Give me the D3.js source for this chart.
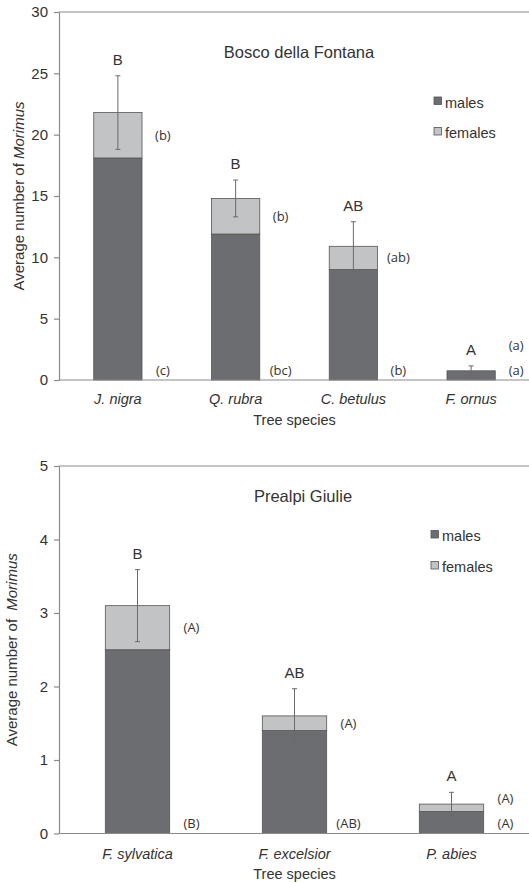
<!DOCTYPE html>
<html>
<head>
<meta charset="utf-8">
<script src="https://cdn.jsdelivr.net/npm/d3@7"></script>
<style>
  body { margin: 0; background: #fff; }
  svg { display: block; font-family: "Liberation Sans", Arial, sans-serif; }
</style>
</head>
<body>
<svg id="chart" width="529" height="883"></svg>
<script>
// panel 1: Bosco della Fontana
const fontanaSpecies = ['J. nigra', 'Q. rubra', 'C. betulus', 'F. ornus'];
const fontanaMales = [18.1, 11.9, 9.0, 0.75];
const fontanaFemales = [3.7, 2.9, 1.9, 0];
const fontanaErr = [3.0, 1.5, 2.0, 0.4];
const fontanaLetters = ['B', 'B', 'AB', 'A'];
const fontanaFemaleGroups = ['(b)', '(b)', '(ab)', '(a)'];
const fontanaMaleGroups = ['(c)', '(bc)', '(b)', '(a)'];
const fontanaTicks = [0, 5, 10, 15, 20, 25, 30];

// panel 2: Prealpi Giulie
const giulieSpecies = ['F. sylvatica', 'F. excelsior', 'P. abies'];
const giulieMales = [2.5, 1.4, 0.3];
const giulieFemales = [0.6, 0.2, 0.1];
const giulieErr = [0.49, 0.37, 0.16];
const giulieLetters = ['B', 'AB', 'A'];
const giulieFemaleGroups = ['(A)', '(A)', '(A)'];
const giulieMaleGroups = ['(B)', '(AB)', '(A)'];
const giulieTicks = [0, 1, 2, 3, 4, 5];

const seriesNames = ['males', 'females'];

const colors = { males: '#6c6d70', females: '#c2c3c5' };
const textColor = '#333';
const axisColor = '#8a8a8a';

const svg = d3.select('#chart');

function drawPanel(p) {
  const g = svg.append('g');
  const rows = p.species.map((s, i) => ({
    species: s, males: p.males[i], females: p.females[i], err: p.err[i],
    letter: p.letters[i], fg: p.femaleGroups[i], mg: p.maleGroups[i],
  }));

  const x = d3.scaleBand()
    .domain(p.species)
    .range([p.left, p.right])
    .paddingInner(0.59)
    .paddingOuter(0.295);
  const y = d3.scaleLinear()
    .domain([0, d3.max(p.ticks)])
    .range([p.bottom, p.top]);

  const stacked = d3.stack().keys(seriesNames)(rows);

  // bars
  g.selectAll('.layer')
    .data(stacked)
    .enter().append('g')
    .attr('fill', (d) => colors[d.key])
    .selectAll('rect')
    .data((d) => d.filter((v) => v[1] > v[0]))
    .enter().append('rect')
    .attr('x', (d) => x(d.data.species))
    .attr('width', x.bandwidth())
    .attr('y', (d) => y(d[1]))
    .attr('height', (d) => y(d[0]) - y(d[1]))
    .attr('stroke', '#555')
    .attr('stroke-width', 0.8);

  // error bars around the total
  const eb = g.selectAll('.err')
    .data(rows)
    .enter().append('g')
    .attr('stroke', '#6a6a6a')
    .attr('stroke-width', 1);
  const cx = (d) => x(d.species) + x.bandwidth() / 2;
  const tot = (d) => d.males + d.females;
  eb.append('line')
    .attr('x1', cx).attr('x2', cx)
    .attr('y1', (d) => y(tot(d) - d.err))
    .attr('y2', (d) => y(tot(d) + d.err));
  [-1, 1].forEach((s) => {
    eb.append('line')
      .attr('x1', (d) => cx(d) - 2.5).attr('x2', (d) => cx(d) + 2.5)
      .attr('y1', (d) => y(tot(d) + s * d.err))
      .attr('y2', (d) => y(tot(d) + s * d.err));
  });

  // letters above
  g.selectAll('.letter')
    .data(rows)
    .enter().append('text')
    .attr('x', cx)
    .attr('y', (d) => y(tot(d) + d.err) - 11)
    .attr('text-anchor', 'middle')
    .attr('font-size', 15)
    .attr('fill', textColor)
    .text((d) => d.letter);

  // group labels next to bars
  const lblFont = '"Open Sans", "Noto Sans", sans-serif';
  g.selectAll('.fg')
    .data(rows)
    .enter().append('text')
    .attr('x', (d) => cx(d) + p.labelOffset)
    .attr('y', (d) => Math.min(y(d.males + d.females / 2), p.bottom - 35))
    .attr('dy', '0.35em')
    .attr('text-anchor', 'middle')
    .attr('font-family', lblFont)
    .attr('font-size', 13)
    .attr('fill', textColor)
    .text((d) => d.fg);
  g.selectAll('.mg')
    .data(rows)
    .enter().append('text')
    .attr('x', (d) => cx(d) + p.labelOffset)
    .attr('y', p.bottom - 10)
    .attr('dy', '0.35em')
    .attr('text-anchor', 'middle')
    .attr('font-family', lblFont)
    .attr('font-size', 13)
    .attr('fill', textColor)
    .text((d) => d.mg);

  // axes
  const yAxis = g.append('g')
    .attr('transform', `translate(${p.left},0)`)
    .call(d3.axisLeft(y).tickValues(p.ticks).tickFormat(d3.format('d'))
      .tickSize(5).tickPadding(6).tickSizeOuter(0));
  yAxis.selectAll('text').attr('font-size', 15).attr('fill', textColor)
    .attr('font-family', '"Liberation Sans", Arial, sans-serif');

  const xAxis = g.append('g')
    .attr('transform', `translate(0,${p.bottom})`)
    .call(d3.axisBottom(x).tickSize(0).tickPadding(p.tickPad).tickSizeOuter(0));
  xAxis.selectAll('text').attr('font-size', 14.5).attr('fill', textColor)
    .attr('font-style', 'italic')
    .attr('font-family', '"Liberation Sans", Arial, sans-serif');

  [yAxis, xAxis].forEach((a) => {
    a.selectAll('path, line').attr('stroke', axisColor).attr('stroke-width', 1.2);
  });
  xAxis.select('.domain').attr('d', `M${p.left},0H${p.right}`);

  // top border of plot area
  g.append('line')
    .attr('x1', p.left).attr('x2', p.right)
    .attr('y1', p.top).attr('y2', p.top)
    .attr('stroke', axisColor).attr('stroke-width', 1.2);

  // title
  g.append('text')
    .attr('x', p.titleX).attr('y', p.titleY)
    .attr('text-anchor', 'middle')
    .attr('font-size', 16.5)
    .attr('fill', textColor)
    .text(p.title);

  // x label
  g.append('text')
    .attr('x', (p.left + p.right) / 2).attr('y', p.bottom + 45)
    .attr('text-anchor', 'middle')
    .attr('font-size', 14.5)
    .attr('fill', textColor)
    .text('Tree species');

  // y label
  const yl = g.append('text')
    .attr('transform', `translate(${p.ylabX},${(p.top + p.bottom) / 2}) rotate(-90)`)
    .attr('text-anchor', 'middle')
    .attr('font-size', 15)
    .attr('fill', textColor);
  yl.append('tspan').text('Average number of ');
  yl.append('tspan').attr('dx', p.ylabGap).attr('font-style', 'italic').text('Morimus');

  // legend
  const leg = g.selectAll('.leg')
    .data(seriesNames)
    .enter().append('g')
    .attr('transform', (d, i) => `translate(${p.legX},${p.legY + i * p.legStep})`);
  leg.append('rect')
    .attr('x', 0).attr('y', -10.5)
    .attr('width', 7.5).attr('height', 7.5)
    .attr('fill', (d) => colors[d])
    .attr('stroke', '#555').attr('stroke-width', 0.8);
  leg.append('text')
    .attr('x', 11).attr('y', 0)
    .attr('font-size', 14.5)
    .attr('fill', textColor)
    .text((d) => d);
}

drawPanel({
  title: 'Bosco della Fontana',
  species: fontanaSpecies, males: fontanaMales, females: fontanaFemales, err: fontanaErr,
  letters: fontanaLetters, femaleGroups: fontanaFemaleGroups, maleGroups: fontanaMaleGroups,
  ticks: fontanaTicks,
  left: 59, right: 530, top: 12, bottom: 380,
  labelOffset: 45, tickPad: 13.5,
  titleX: 299, titleY: 57.5,
  ylabX: 24, ylabGap: 0,
  legX: 434, legY: 107.5, legStep: 30.5,
});

drawPanel({
  title: 'Prealpi Giulie',
  species: giulieSpecies, males: giulieMales, females: giulieFemales, err: giulieErr,
  letters: giulieLetters, femaleGroups: giulieFemaleGroups, maleGroups: giulieMaleGroups,
  ticks: giulieTicks,
  left: 59, right: 530, top: 466, bottom: 833.5,
  labelOffset: 54, tickPad: 15.5,
  titleX: 303, titleY: 502,
  ylabX: 17, ylabGap: 4,
  legX: 431, legY: 541, legStep: 31,
});
</script>
</body>
</html>
